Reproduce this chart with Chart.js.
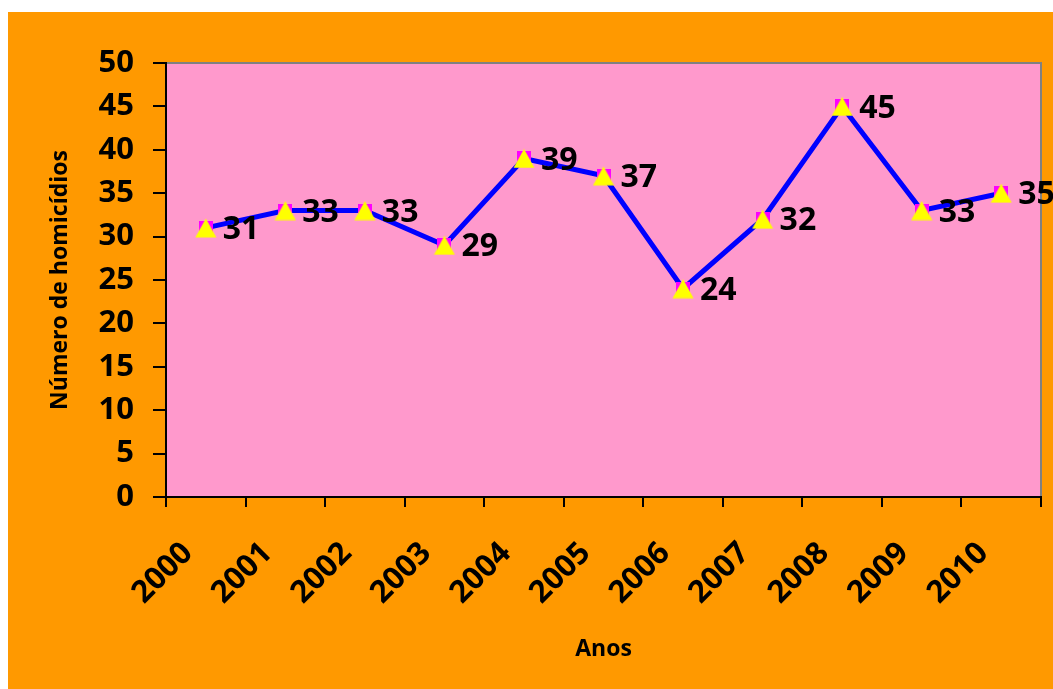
<!DOCTYPE html>
<html>
<head>
<meta charset="utf-8">
<script src="https://cdn.jsdelivr.net/npm/chart.js@4"></script>
<style>
  body { margin: 0; background: #fff; }
  #wrap { position: absolute; left: 8px; top: 12px; }
</style>
</head>
<body>
<div id="wrap"><canvas id="grafico" width="1045" height="677"></canvas></div>
<script>
// Dados do gráfico
const anos = ['2000', '2001', '2002', '2003', '2004', '2005', '2006', '2007', '2008', '2009', '2010'];
const homicidios = [31, 33, 33, 29, 39, 37, 24, 32, 45, 33, 35];
const yTicks = [0, 5, 10, 15, 20, 25, 30, 35, 40, 45, 50];

const FONTE = '"Open Sans", Lato, sans-serif';

// marcadores: triângulo amarelo e quadrado magenta (centrados pela caixa)
function criaTriangulo() {
  const c = document.createElement('canvas');
  c.width = 22; c.height = 20;
  const g = c.getContext('2d');
  g.fillStyle = '#FFFF00';
  g.beginPath();
  g.moveTo(11, 0.5);
  g.lineTo(21.5, 19.5);
  g.lineTo(0.5, 19.5);
  g.closePath();
  g.fill();
  return c;
}
function criaQuadrado() {
  const c = document.createElement('canvas');
  c.width = 14; c.height = 14;
  const g = c.getContext('2d');
  g.fillStyle = '#FF00FF';
  g.fillRect(0, 0, 14, 14);
  return c;
}

// fundo laranja + área rosa
const fundoPlugin = {
  id: 'fundo',
  beforeDraw(chart) {
    const { ctx, chartArea: a } = chart;
    ctx.save();
    ctx.fillStyle = '#FF9900';
    ctx.fillRect(0, 0, chart.width, chart.height);
    ctx.fillStyle = '#FF99CC';
    ctx.fillRect(a.left, a.top, a.right - a.left, a.bottom - a.top);
    ctx.strokeStyle = '#808080';
    ctx.lineWidth = 2;
    ctx.beginPath();
    ctx.moveTo(a.left, a.top);
    ctx.lineTo(a.right, a.top);
    ctx.lineTo(a.right, a.bottom);
    ctx.stroke();
    ctx.restore();
  }
};

// rótulos de valores ao lado dos pontos
const rotulosPlugin = {
  id: 'rotulos',
  afterDatasetsDraw(chart) {
    const { ctx } = chart;
    const meta = chart.getDatasetMeta(2);
    ctx.save();
    ctx.font = 'bold 32px ' + FONTE;
    ctx.fillStyle = '#000';
    ctx.textBaseline = 'middle';
    ctx.textAlign = 'left';
    meta.data.forEach((pt, i) => {
      ctx.fillText(String(homicidios[i]), pt.x + 17, pt.y + 2);
    });
    ctx.restore();
  }
};

new Chart(document.getElementById('grafico'), {
  type: 'line',
  data: {
    labels: anos,
    datasets: [
      {
        data: homicidios,
        borderColor: '#0000FF',
        borderWidth: 5,
        pointRadius: 0,
        fill: false,
        tension: 0,
        order: 3
      },
      {
        data: homicidios,
        showLine: false,
        pointStyle: criaQuadrado(),
        pointRadius: 7,
        order: 2
      },
      {
        data: homicidios,
        showLine: false,
        pointStyle: criaTriangulo(),
        pointRadius: 11,
        order: 1
      }
    ]
  },
  options: {
    responsive: false,
    animation: false,
    layout: { padding: { left: 0, right: 12, top: 51, bottom: 0 } },
    plugins: {
      legend: { display: false },
      tooltip: { enabled: false }
    },
    scales: {
      x: {
        offset: true,
        grid: { offset: true, drawOnChartArea: false, drawTicks: true, tickLength: 10, color: '#000', lineWidth: 2 },
        border: { color: '#000', width: 2 },
        ticks: {
          color: '#000',
          font: { family: FONTE, size: 31, weight: 'bold' },
          minRotation: 45,
          maxRotation: 45,
          padding: 28,
          labelOffset: -18
        },
        title: {
          display: true,
          text: 'Anos',
          color: '#000',
          font: { family: FONTE, size: 23, weight: 'bold' },
          padding: { top: 4, bottom: 26 }
        },
        afterFit(scale) {
          scale.height = 192;
          scale.paddingLeft = 0;
          scale.paddingRight = 0;
        }
      },
      y: {
        min: 0,
        max: 50,
        afterBuildTicks(scale) { scale.ticks = yTicks.map(v => ({ value: v })); },
        grid: { drawOnChartArea: false, drawTicks: true, tickLength: 13, color: '#000', lineWidth: 2 },
        border: { color: '#000', width: 2 },
        ticks: {
          color: '#000',
          font: { family: FONTE, size: 31, weight: 'bold' },
          padding: 19
        },
        title: {
          display: true,
          text: 'Número de homicídios',
          color: '#000',
          font: { family: FONTE, size: 23, weight: 'bold' },
          padding: { top: 39, bottom: 0 }
        },
        afterFit(scale) {
          scale.width = 158;
          scale.paddingTop = 0;
          scale.paddingBottom = 0;
        }
      }
    }
  },
  plugins: [fundoPlugin, rotulosPlugin]
});
</script>
</body>
</html>
